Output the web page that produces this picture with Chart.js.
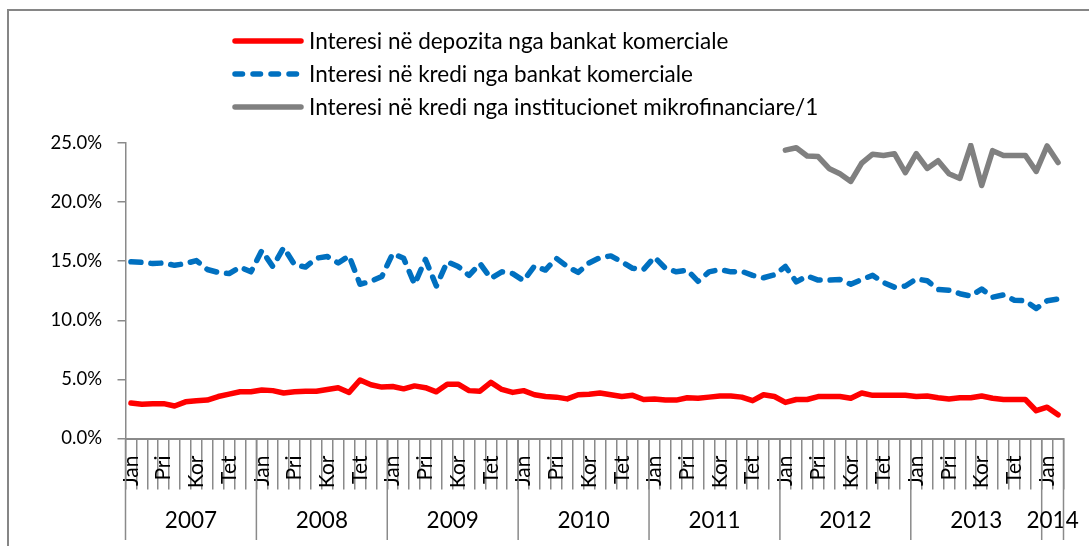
<!DOCTYPE html>
<html>
<head>
<meta charset="utf-8">
<script src="https://cdn.jsdelivr.net/npm/chart.js@4.4.1/dist/chart.umd.min.js"></script>
<style>
  html, body { margin: 0; padding: 0; background: #fff; overflow: hidden; }
  #wrap { position: relative; width: 1089px; height: 546px; }
  #frame {
    position: absolute; left: 7px; top: 9px; width: 1200px; height: 600px;
    border-left: 2px solid #868686; border-top: 2px solid #868686;
    pointer-events: none;
  }
  canvas { position: absolute; left: 0; top: 0; }
</style>
</head>
<body>
<div id="wrap">
  <canvas id="chart" width="1089" height="546"></canvas>
  <div id="frame"></div>
</div>
<script>
// years shown under the month ticks
const years = ['2007', '2008', '2009', '2010', '2011', '2012', '2013', '2014'];
// only every third month gets a label (Janar, Prill, Korrik, Tetor)
const monthTicks = ['Jan', '', '', 'Pri', '', '', 'Kor', '', '', 'Tet', '', ''];
const monthsIn2014 = 2;

// interest rates, % (Jan 2007 - Feb 2014)
const deposits = [
  3.0, 2.9, 2.95, 2.95, 2.75, 3.1, 3.2, 3.25, 3.55, 3.75, 3.95, 3.95,
  4.1, 4.05, 3.85, 3.95, 4.0, 4.0, 4.15, 4.3, 3.9, 4.95, 4.55, 4.35,
  4.4, 4.2, 4.45, 4.3, 3.95, 4.6, 4.6, 4.05, 4.0, 4.75, 4.15, 3.9,
  4.05, 3.7, 3.55, 3.5, 3.35, 3.7, 3.75, 3.85, 3.7, 3.55, 3.65, 3.3,
  3.35, 3.25, 3.25, 3.45, 3.4, 3.5, 3.6, 3.6, 3.5, 3.2, 3.7, 3.55,
  3.05, 3.3, 3.3, 3.55, 3.55, 3.55, 3.4, 3.85, 3.65, 3.65, 3.65, 3.65,
  3.55, 3.6, 3.45, 3.35, 3.45, 3.45, 3.6, 3.4, 3.3, 3.3, 3.3, 2.35,
  2.65, 2.0
];
const loans = [
  14.95, 14.9, 14.8, 14.85, 14.65, 14.8, 15.05, 14.3, 14.05, 13.95, 14.5, 14.1,
  15.9, 14.55, 16.15, 14.7, 14.5, 15.25, 15.4, 14.85, 15.45, 13.05, 13.3, 13.7,
  15.65, 15.25, 13.05, 15.15, 12.9, 14.95, 14.55, 13.8, 14.8, 13.55, 14.1, 13.95,
  13.35, 14.6, 14.25, 15.25, 14.55, 14.05, 14.85, 15.3, 15.45, 14.95, 14.4, 14.3,
  15.35, 14.4, 14.1, 14.25, 13.3, 14.1, 14.3, 14.1, 14.15, 13.8, 13.6, 13.85,
  14.55, 13.25, 13.75, 13.4, 13.4, 13.45, 13.05, 13.45, 13.8, 13.2, 12.8, 12.9,
  13.5, 13.35, 12.6, 12.55, 12.25, 12.05, 12.65, 11.95, 12.15, 11.7, 11.65, 11.0,
  11.65, 11.8
];
// microfinance series starts in Jan 2012
const mfiStart = 60;
const mfiLoans = [
  24.4, 24.6, 23.9, 23.85, 22.85, 22.4, 21.75, 23.3, 24.05, 23.95, 24.1, 22.5,
  24.1, 22.85, 23.5, 22.4, 22.0, 24.8, 21.4, 24.35, 23.95, 23.95, 23.95, 22.6,
  24.75, 23.35
];
const yTicks = [0, 5, 10, 15, 20, 25];

const axisGrey = '#8a8a8a';

const labels = [];
years.forEach((y, k) => {
  const n = k === years.length - 1 ? monthsIn2014 : 12;
  for (let m = 0; m < n; m++) labels.push(monthTicks[m]);
});
const mfiData = new Array(mfiStart).fill(null).concat(mfiLoans);

// legend in one column at the top + year row under the month ticks
const extrasPlugin = {
  id: 'extras',
  afterDraw(chart) {
    const ctx = chart.ctx;
    const xs = chart.scales.x;
    ctx.save();

    chart.data.datasets.forEach((ds, i) => {
      const y = 41 + i * 33;
      ctx.strokeStyle = ds.borderColor;
      ctx.lineWidth = 5.5;
      ctx.lineCap = 'round';
      ctx.setLineDash(ds.borderDash ? [7.5, 10.5] : []);
      ctx.beginPath();
      ctx.moveTo(235, y);
      ctx.lineTo(301, y);
      ctx.stroke();
      ctx.setLineDash([]);
      ctx.fillStyle = '#000';
      ctx.font = '22.5px Lato';
      ctx.textAlign = 'left';
      ctx.textBaseline = 'middle';
      ctx.fillText(ds.label, 309, y + 1);
    });

    const step = xs.getPixelForValue(1) - xs.getPixelForValue(0);
    const n = labels.length;
    ctx.strokeStyle = axisGrey;
    ctx.lineWidth = 1.5;
    ctx.lineCap = 'butt';
    let first = 0;
    years.forEach((year, k) => {
      const last = Math.min(first + 11, n - 1);
      const edge = xs.getPixelForValue(first) - step / 2;
      ctx.beginPath();
      ctx.moveTo(edge, xs.top);
      ctx.lineTo(edge, 540);
      ctx.stroke();
      const cx = (xs.getPixelForValue(first) + xs.getPixelForValue(last)) / 2;
      ctx.fillStyle = '#000';
      ctx.font = '22.5px Lato';
      ctx.textAlign = 'center';
      ctx.textBaseline = 'middle';
      ctx.fillText(year, cx, 521);
      first = last + 1;
    });
    const end = xs.getPixelForValue(n - 1) + step / 2;
    ctx.beginPath();
    ctx.moveTo(end, xs.top);
    ctx.lineTo(end, 540);
    ctx.stroke();
    ctx.restore();
  }
};

new Chart(document.getElementById('chart'), {
  type: 'line',
  data: {
    labels,
    datasets: [
      {
        label: 'Interesi në depozita nga bankat komerciale',
        data: deposits,
        borderColor: '#FF0000',
        borderWidth: 5.5
      },
      {
        label: 'Interesi në kredi nga bankat komerciale',
        data: loans,
        borderColor: '#0070C0',
        borderWidth: 5.5,
        borderDash: [10, 10]
      },
      {
        label: 'Interesi në kredi nga institucionet mikrofinanciare/1',
        data: mfiData,
        borderColor: '#808080',
        borderWidth: 5.5
      }
    ]
  },
  options: {
    responsive: false,
    animation: false,
    devicePixelRatio: 1,
    layout: { padding: { top: 143, right: 25.5, bottom: 0, left: 0 } },
    elements: {
      point: { radius: 0 },
      line: { tension: 0, borderCapStyle: 'round', borderJoinStyle: 'round', fill: false }
    },
    plugins: {
      legend: { display: false },
      tooltip: { enabled: false }
    },
    scales: {
      x: {
        offset: true,
        grid: { offset: true, drawOnChartArea: false, tickLength: 51, color: axisGrey, lineWidth: 1.5 },
        border: { color: axisGrey, width: 2 },
        ticks: {
          autoSkip: false,
          minRotation: 90,
          maxRotation: 90,
          padding: -34,
          color: '#000',
          font: { family: 'Lato', size: 21 }
        },
        afterFit(scale) { scale.height = 107.5; }
      },
      y: {
        min: 0,
        max: 25,
        afterBuildTicks(scale) { scale.ticks = yTicks.map(v => ({ value: v })); },
        grid: { drawOnChartArea: false, tickLength: 8, color: axisGrey, lineWidth: 1.5 },
        border: { color: axisGrey, width: 1.5 },
        ticks: {
          padding: 15.5,
          color: '#000',
          font: { family: 'Lato', size: 18.5 },
          callback: v => v.toFixed(1) + '%'
        },
        afterFit(scale) { scale.width = 125.5; }
      }
    }
  },
  plugins: [extrasPlugin]
});
</script>
</body>
</html>
